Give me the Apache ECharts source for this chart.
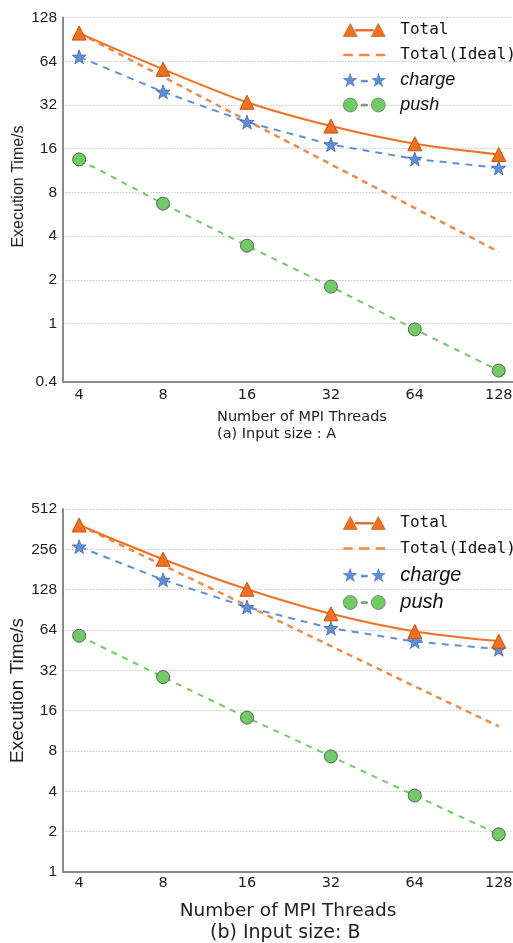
<!DOCTYPE html>
<html>
<head>
<meta charset="utf-8">
<title>Execution time vs MPI threads</title>
<script src="https://cdn.jsdelivr.net/npm/echarts@6/dist/echarts.min.js"></script>
<style>
  html, body { margin: 0; padding: 0; background: #fff; }
  #chart { width: 513px; height: 943px; }
</style>
</head>
<body>
<div id="chart"></div>
<script>
// thread counts (x axis)
const threads = [4, 8, 16, 32, 64, 128]

// (a) input size A, seconds
const totalA = [100, 56.4, 33.4, 22.9, 17.3, 14.6]
const idealA = [100, 50, 25, 12.5, 6.25, 3.125]
const chargeA = [68.6, 39.4, 24.4, 17.1, 13.6, 11.8]
const pushA = [13.5, 6.7, 3.44, 1.8, 0.914, 0.476]

// (b) input size B, seconds
const totalB = [389, 216, 129, 84.5, 62.4, 52.7]
const idealB = [389, 194.5, 97.3, 48.6, 24.3, 12.2]
const chargeB = [268, 151.5, 94.8, 66, 52.5, 46]
const pushB = [58, 28.5, 14.2, 7.3, 3.72, 1.91]

// y tick labels
const yTicksA = [0.4, 1, 2, 4, 8, 16, 32, 64, 128]
const yTicksB = [1, 2, 4, 8, 16, 32, 64, 128, 256, 512]

const orange = '#f2701f'
const orangeIdeal = '#f28a45'
const blue = '#5f8fd9'
const green = '#72c968'

// 5 point star, 14x14
const star = 'M7,0 L8.65,4.73 L13.66,4.84 L9.66,7.87 L11.11,12.66 L7,9.8 L2.89,12.66 L4.34,7.87 L0.34,4.84 L5.35,4.73 Z'
const starR = 'M35,0 L36.65,4.73 L41.66,4.84 L37.66,7.87 L39.11,12.66 L35,9.8 L30.89,12.66 L32.34,7.87 L28.34,4.84 L33.35,4.73 Z'
const icons = {
  total: 'path://M0,14 L7,1 L14,14 Z M12,7 L30,7 L30,8.6 L12,8.6 Z M28,14 L35,1 L42,14 Z',
  ideal: 'path://M1,6 L10,6 L10,8.5 L1,8.5 Z M16,6 L26,6 L26,8.5 L16,8.5 Z M32,6 L41,6 L41,8.5 L32,8.5 Z',
  charge: 'path://' + star + ' M18,6.5 L24,6.5 L24,8.3 L18,8.3 Z ' + starR,
  push: 'path://M0,7 A7,7 0 1,0 14,7 A7,7 0 1,0 0,7 Z M18,6.2 L24,6.2 L24,8 L18,8 Z M28,7 A7,7 0 1,0 42,7 A7,7 0 1,0 28,7 Z'
}

const pairs = d => d.map((v, i) => [threads[i], v])

function seriesFor(idx, total, ideal, charge, push) {
  return [
    {
      name: 'Total', type: 'line', xAxisIndex: idx, yAxisIndex: idx,
      data: pairs(total), symbol: 'triangle', symbolSize: 14,
      itemStyle: { color: orange, borderColor: '#c4520f', borderWidth: 1 },
      lineStyle: { color: orange, width: 2 }, smooth: 0.3, z: 5
    },
    {
      name: 'Total(Ideal)', type: 'line', xAxisIndex: idx, yAxisIndex: idx,
      data: pairs(ideal), symbol: 'none',
      itemStyle: { color: orangeIdeal },
      lineStyle: { color: orangeIdeal, width: 2.5, type: [6, 5] }, z: 3
    },
    {
      name: 'charge', type: 'line', xAxisIndex: idx, yAxisIndex: idx,
      data: pairs(charge), symbol: 'path://' + star, symbolSize: 14,
      itemStyle: { color: blue, borderColor: '#3a68b0', borderWidth: 0.8 },
      lineStyle: { color: blue, width: 2, type: [7, 6] }, z: 4
    },
    {
      name: 'push', type: 'line', xAxisIndex: idx, yAxisIndex: idx,
      data: pairs(push), symbol: 'circle', symbolSize: 13,
      itemStyle: { color: green, borderColor: '#4d6b49', borderWidth: 1 },
      lineStyle: { color: green, width: 2, type: [6, 6] }, z: 4
    }
  ]
}

function legendFor(top, gap, italicSize) {
  const italic = { fontFamily: 'Liberation Sans', fontStyle: 'italic', fontSize: italicSize }
  return {
    orient: 'vertical', left: 338, top: top, itemGap: gap,
    itemWidth: 42, itemHeight: 14,
    selectedMode: false,
    data: [
      { name: 'Total', icon: icons.total, itemStyle: { borderWidth: 0.6 } },
      { name: 'Total(Ideal)', icon: icons.ideal, itemStyle: { borderWidth: 0 } },
      { name: 'charge', icon: icons.charge, itemStyle: { borderWidth: 0.5 }, textStyle: italic },
      { name: 'push', icon: icons.push, itemStyle: { borderWidth: 0.6 }, textStyle: italic }
    ],
    textStyle: { fontFamily: 'DejaVu Sans Mono', fontSize: 16, color: '#111', lineHeight: 18, padding: [0, 0, 0, 10] }
  }
}

const axisLineStyle = { show: true, lineStyle: { color: '#8a8a8a', width: 2 } }
const splitStyle = { show: true, lineStyle: { color: '#c9c9c9', type: [1.5, 1.5], width: 1 } }
const isPow2 = v => Math.abs(Math.log2(v) - Math.round(Math.log2(v))) < 1e-6

function xAxisFor(idx, nameSize, gap) {
  return {
    type: 'log', logBase: 2, gridIndex: idx, min: 3.5, max: 144,
    axisLine: axisLineStyle, axisTick: { show: false }, splitLine: { show: false },
    axisLabel: {
      color: '#222', fontFamily: 'DejaVu Sans', fontSize: 14.5, margin: idx ? 4 : 6,
      formatter: v => (isPow2(v) ? String(Math.round(v)) : '')
    },
    name: 'Number of MPI Threads', nameLocation: 'middle', nameGap: gap,
    nameTextStyle: { fontFamily: 'DejaVu Sans', fontSize: nameSize, color: '#222', padding: idx ? [0, 0, 0, 0] : [0, 0, 0, 28] }
  }
}

function yAxisFor(idx, ticks, min, max, nameSize, gap, pad) {
  return {
    type: 'log', logBase: 2, gridIndex: idx, min: min, max: max,
    axisLine: axisLineStyle,
    axisTick: { show: false, customValues: ticks },
    splitLine: splitStyle,
    axisLabel: {
      customValues: ticks, color: '#222', fontFamily: 'Liberation Sans', fontSize: 15.5, margin: 6,
      formatter: v => String(Math.round(v * 10) / 10)
    },
    name: 'Execution Time/s', nameLocation: 'middle', nameRotate: 90, nameGap: gap,
    nameMoveOverlap: false,
    nameTextStyle: { fontFamily: 'Liberation Sans', fontSize: nameSize, color: '#222', padding: pad }
  }
}

const chart = echarts.init(document.getElementById('chart'))
chart.setOption({
  backgroundColor: '#fff',
  animation: false,
  grid: [
    { left: 63, right: 0, top: 17.5, height: 364, outerBoundsMode: 'none', containLabel: false },
    { left: 63, right: 0, top: 509, height: 363, outerBoundsMode: 'none', containLabel: false }
  ],
  xAxis: [xAxisFor(0, 14.5, 28), xAxisFor(1, 18.5, 30)],
  yAxis: [
    yAxisFor(0, yTicksA, 0.4, 128, 16, 36, [0, 0, 0, 26]),
    yAxisFor(1, yTicksB, 1, 512, 19, 36, 0)
  ],
  legend: [legendFor(16, 7, 18), legendFor(509, 7.5, 20)],
  graphic: [
    { type: 'text', left: 217, top: 427, style: { text: '(a) Input size : A', font: '14.5px "DejaVu Sans"', fill: '#222' } },
    { type: 'text', left: 210, top: 924, style: { text: '(b) Input size: B', font: '19px "DejaVu Sans"', fill: '#222' } }
  ],
  series: seriesFor(0, totalA, idealA, chargeA, pushA).concat(seriesFor(1, totalB, idealB, chargeB, pushB))
})
</script>
</body>
</html>
